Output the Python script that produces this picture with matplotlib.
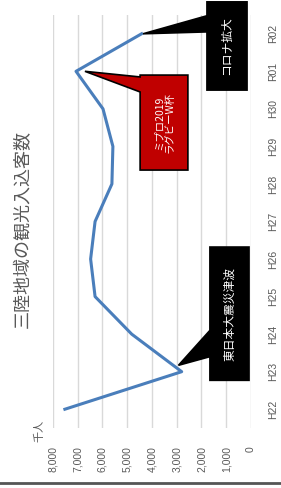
import numpy as np
import matplotlib
matplotlib.use('Agg')
import matplotlib.pyplot as plt
from matplotlib.patches import Polygon

plt.rcParams['font.family'] = ['Noto Sans CJK JP', 'DejaVu Sans']

# data (千人)
years = ['H22', 'H23', 'H24', 'H25', 'H26', 'H27', 'H28', 'H29', 'H30', 'R01', 'R02']
visitors = [7520, 2800, 4820, 6300, 6480, 6300, 5620, 5580, 5980, 7070, 4420]
value_ticks = [0, 1000, 2000, 3000, 4000, 5000, 6000, 7000, 8000]
title = '三陸地域の観光入込客数'
unit = '千人'

gray = '#595959'

fig = plt.figure(figsize=(2.81, 4.88), dpi=100)
ax = fig.add_axes([53/281, 60/488, 198/281, 413/488])

# chart is drawn turned 90 deg: values run right->left, years bottom->top
idx = np.arange(len(years))
ax.plot(visitors, idx, color='#4A7EBB', lw=2.2, zorder=3)

ax.set_xlim(8000, 0)
ax.set_ylim(-0.5, len(years) - 0.5)
ax.set_xticks(value_ticks)
ax.set_xticklabels(['{:,}'.format(v) for v in value_ticks], rotation=90,
                   color=gray, fontsize=7.5, family=['Liberation Sans', 'DejaVu Sans'])
ax.set_yticks(idx)
ax.set_yticklabels(years, rotation=90, va='center', color=gray, fontsize=7.5,
                   family=['Liberation Sans', 'DejaVu Sans'])
ax.yaxis.tick_right()
ax.tick_params(axis='x', length=0, pad=13)
ax.tick_params(axis='y', length=0, pad=12)
ax.grid(axis='x', color='#D9D9D9', lw=1)
ax.set_axisbelow(True)
for s in ax.spines.values():
    s.set_visible(False)

# callouts: box corners (value, index) plus pointer aimed at a data point
def callout(i, tip_dv, tip_di, x0, x1, y0, y1, b0, b1, face, text, fs):
    tip = (visitors[i] - tip_dv, i + tip_di)
    pts = [(x0, y0), (x0, b0), tip, (x0, b1), (x0, y1), (x1, y1), (x1, y0)]
    ax.add_patch(Polygon(pts, closed=True, facecolor=face, edgecolor='black',
                         lw=1.2, clip_on=False, zorder=4))
    ax.text((x0 + x1) / 2, (y0 + y1) / 2, text, rotation=90, color='white',
            ha='center', va='center', fontsize=fs, linespacing=1.1,
            clip_on=False, zorder=5)

callout(10, 60, 0.0, 1780, 160, 8.5, 10.85, 10.05, 10.48, 'black', 'コロナ拡大', 8.5)
callout(9, 360, 0.0, 4480, 2550, 6.37, 8.9, 8.45, 8.85, '#C00000', 'ミプロ2019\nラグビーW杯', 7.5)
callout(1, -130, 0.17, 1660, 80, 0.77, 4.32, 1.4, 2.1, 'black', '東日本大震災津波', 8.5)

fig.text(23/281, 1 - 229/488, title, rotation=90, color=gray, fontsize=13,
         ha='center', va='center')
fig.text(39/281, 1 - 431/488, unit, rotation=90, color=gray, fontsize=8,
         ha='center', va='center')

# frame line at the bottom
fig.add_artist(plt.Line2D([0, 1], [1 - 483/488] * 2, color='#555555', lw=2,
                          transform=fig.transFigure))

fig.savefig('out.png', dpi=100)
